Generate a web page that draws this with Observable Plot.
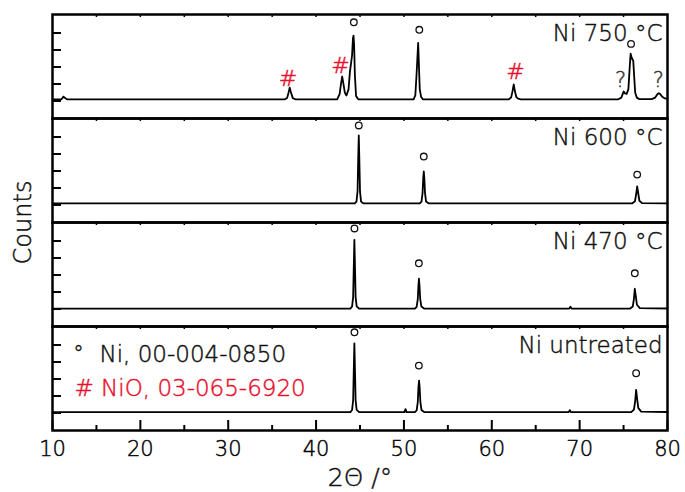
<!DOCTYPE html>
<html><head><meta charset="utf-8">
<script src="https://cdn.jsdelivr.net/npm/d3@7"></script>
<script src="https://cdn.jsdelivr.net/npm/@observablehq/plot@0.6"></script>
<style>
html,body{margin:0;padding:0;background:#fff;} svg{display:block}
#chart g[aria-label="x-axis tick label"] text{stroke:#000;stroke-width:0.45px;paint-order:stroke;}
</style>
</head><body><div id="chart"></div>
<script>
// ---- data ----
const samples = ["750", "600", "470", "untreated"];
const panelLabels = ["Ni 750 °C", "Ni 600 °C", "Ni 470 °C", "Ni untreated"];

const theta750 = [10, 11.0, 11.25, 11.35, 11.7, 36.4, 36.7, 36.88, 37.0, 37.12, 37.35, 37.7, 42.4, 42.68, 42.85, 42.97, 43.1, 43.28, 43.46, 43.7, 43.85, 43.95, 44.1, 44.2, 44.26, 44.33, 44.42, 44.55, 44.8, 51.1, 51.3, 51.42, 51.52, 51.62, 51.7, 51.8, 51.95, 52.15, 61.9, 62.2, 62.35, 62.5, 62.62, 62.8, 63.0, 63.3, 74.4, 74.75, 74.95, 75.02, 75.15, 75.35, 75.55, 75.7, 75.8, 75.9, 76.0, 76.1, 76.2, 76.32, 76.5, 76.8, 78.2, 78.6, 78.85, 79.0, 79.15, 79.4, 79.7, 80];
const counts750 = [90, 90, 260, 200, 90, 90, 180, 520, 780, 540, 170, 90, 100, 400, 1050, 1440, 1050, 480, 320, 700, 1700, 2090, 2700, 3700, 3850, 3300, 1500, 300, 100, 90, 350, 1400, 2400, 3420, 2200, 700, 250, 100, 90, 200, 550, 970, 600, 220, 140, 100, 100, 200, 480, 560, 450, 420, 700, 2000, 2780, 2600, 2450, 2380, 1500, 500, 200, 110, 110, 200, 400, 460, 420, 250, 150, 130];

const theta600 = [10, 44.4, 44.6, 44.72, 44.8, 44.86, 44.92, 45.0, 45.12, 45.4, 51.8, 52.0, 52.12, 52.2, 52.26, 52.32, 52.4, 52.52, 52.8, 76.0, 76.3, 76.45, 76.55, 76.65, 76.8, 77.1, 80];
const counts600 = [90, 90, 200, 800, 2800, 4090, 2800, 800, 200, 90, 90, 200, 700, 1600, 1970, 1600, 700, 200, 100, 100, 220, 700, 1100, 750, 250, 110, 100];

const theta470 = [10, 43.9, 44.1, 44.22, 44.3, 44.36, 44.42, 44.5, 44.62, 44.9, 51.25, 51.45, 51.58, 51.65, 51.71, 51.77, 51.85, 51.98, 52.3, 68.8, 68.95, 69.1, 75.75, 76.05, 76.18, 76.28, 76.38, 76.52, 76.85, 80];
const counts470 = [20, 20, 150, 700, 2700, 4070, 2700, 700, 150, 20, 20, 130, 600, 1400, 1780, 1400, 600, 150, 30, 20, 130, 20, 30, 150, 600, 1190, 800, 250, 50, 30];

const thetaRaw = [10, 43.9, 44.1, 44.22, 44.3, 44.36, 44.42, 44.5, 44.62, 44.9, 50.05, 50.18, 50.3, 51.25, 51.45, 51.58, 51.65, 51.72, 51.79, 51.87, 52.0, 52.3, 68.75, 68.88, 69.0, 75.9, 76.18, 76.32, 76.43, 76.53, 76.67, 77.0, 80];
const countsRaw = [50, 50, 180, 750, 2750, 4100, 2750, 750, 180, 50, 50, 230, 50, 50, 160, 650, 1500, 1910, 1500, 650, 170, 60, 50, 170, 50, 60, 200, 700, 1360, 900, 300, 80, 60];

// reflection markers
const niMarkSample = ["750", "750", "750", "600", "600", "600", "470", "470", "470", "untreated", "untreated", "untreated"];
const niMarkTheta = [44.3, 51.75, 75.85, 44.86, 52.26, 76.55, 44.37, 51.7, 76.28, 44.37, 51.7, 76.43];
const niMarkCounts = [4630, 4190, 3360, 4680, 2850, 1790, 4740, 2690, 2100, 4750, 2790, 2340];
const nioMarkTheta = [36.8, 42.78, 62.7];
const nioMarkCounts = [1305, 2087, 1693];
const unknownTheta = [74.65, 78.97];
const unknownCounts = [1205, 1205];

const legendLabels = ["Ni, 00-004-0850", "# NiO, 03-065-6920"];
const xTickValues = [10, 20, 30, 40, 50, 60, 70, 80];
const xMinorValues = [15, 25, 35, 45, 55, 65, 75];
const xTopValues = [15, 20, 25, 30, 35, 40, 45, 50, 55, 60, 65, 70, 75];
const yTickValues = [0, 1000, 2000, 3000, 4000];
const yDomain = [-1030, 5090];
const xLabel = "2Θ /°";
const yLabel = "Counts";

// ---- tables ----
const series = [
  {sample: "750", theta: theta750, counts: counts750},
  {sample: "600", theta: theta600, counts: counts600},
  {sample: "470", theta: theta470, counts: counts470},
  {sample: "untreated", theta: thetaRaw, counts: countsRaw}
];
const rows = [];
series.forEach(({sample, theta, counts}) => theta.forEach((t, i) => rows.push({sample, twoTheta: t, counts: counts[i]})));
const niMarks = niMarkTheta.map((t, i) => ({sample: niMarkSample[i], twoTheta: t, counts: niMarkCounts[i]}));
const nioMarks = nioMarkTheta.map((t, i) => ({sample: "750", twoTheta: t, counts: nioMarkCounts[i]}));
const unkMarks = unknownTheta.map((t, i) => ({sample: "750", twoTheta: t, counts: unknownCounts[i]}));
const labelRows = samples.map((s, i) => ({sample: s, label: panelLabels[i]}));

const panelPx = 104;
const cpp = (yDomain[1] - yDomain[0]) / panelPx; // counts per pixel
const xpp = 70 / 615; // degrees per pixel
const red = "#e8112d";
const ink = "#111";
const bottom = () => "untreated";
const bold = (c) => ({fill: c, stroke: c, strokeWidth: 0.45});

const chart = Plot.plot({
  width: 685, height: 492,
  marginLeft: 52, marginRight: 18, marginTop: 14, marginBottom: 62,
  style: {fontFamily: "DejaVu Sans", fontWeight: 300, background: "white", color: "black"},
  x: {domain: [10, 80], label: null},
  y: {domain: yDomain, axis: null},
  fy: {domain: samples, padding: 0, axis: null, label: null},
  marks: [
    Plot.line(rows, {x: "twoTheta", y: "counts", fy: "sample", stroke: "black", strokeWidth: 1.8, strokeLinejoin: "round"}),
    Plot.ruleY(yTickValues, {y: d => d, x1: 10, x2: 10 + 9 * xpp, strokeWidth: 2}),
    Plot.ruleX(xTopValues, {x: d => d, y1: yDomain[1], y2: yDomain[1] - 3 * cpp, strokeWidth: 1.5}),
    Plot.ruleX(xTickValues, {x: d => d, y1: yDomain[0], y2: yDomain[0] + 10 * cpp, fy: bottom, strokeWidth: 2}),
    Plot.ruleX(xMinorValues, {x: d => d, y1: yDomain[0], y2: yDomain[0] + 5 * cpp, fy: bottom, strokeWidth: 2}),
    Plot.frame({strokeWidth: 2.5}),
    Plot.axisX({ticks: xTickValues, tickSize: 0, tickPadding: 11, fontSize: 21, tickFormat: d => String(d)}),
    Plot.dot(niMarks, {x: "twoTheta", y: "counts", fy: "sample", r: 3.3, stroke: ink, strokeWidth: 1.3, fill: "none"}),
    Plot.text(nioMarks, {x: "twoTheta", y: "counts", fy: "sample", text: () => "#", ...bold(red), fontSize: 22, lineAnchor: "middle"}),
    Plot.text(unkMarks, {x: "twoTheta", y: "counts", fy: "sample", text: () => "?", ...bold("#333"), fontSize: 21, lineAnchor: "middle"}),
    Plot.text(labelRows, {fy: "sample", text: "label", frameAnchor: "top-right", textAnchor: "end", lineAnchor: "top", dx: -5, dy: 10, fontSize: 23, ...bold(ink)}),
    Plot.text([legendLabels[0]], {fy: bottom, text: d => d, frameAnchor: "top-left", textAnchor: "start", lineAnchor: "top", dx: 47, dy: 19.5, fontSize: 23, ...bold(ink)}),
    Plot.text(["°"], {fy: bottom, text: d => d, frameAnchor: "top-left", textAnchor: "middle", lineAnchor: "top", dx: 26, dy: 19.5, fontSize: 21, ...bold(ink)}),
    Plot.text([legendLabels[1]], {fy: bottom, text: d => d, frameAnchor: "top-left", textAnchor: "start", lineAnchor: "top", dx: 22, dy: 52.7, fontSize: 23, ...bold(red)}),
    Plot.text([xLabel], {fy: bottom, text: d => d, frameAnchor: "bottom", textAnchor: "middle", lineAnchor: "top", dy: 38, fontSize: 25, ...bold(ink)}),
    Plot.text([yLabel], {fy: () => "600", text: d => d, frameAnchor: "bottom-left", textAnchor: "middle", lineAnchor: "middle", rotate: -90, dx: -29.5, fontSize: 24, ...bold(ink)})
  ]
});
document.getElementById("chart").appendChild(chart);
</script>
</body></html>
